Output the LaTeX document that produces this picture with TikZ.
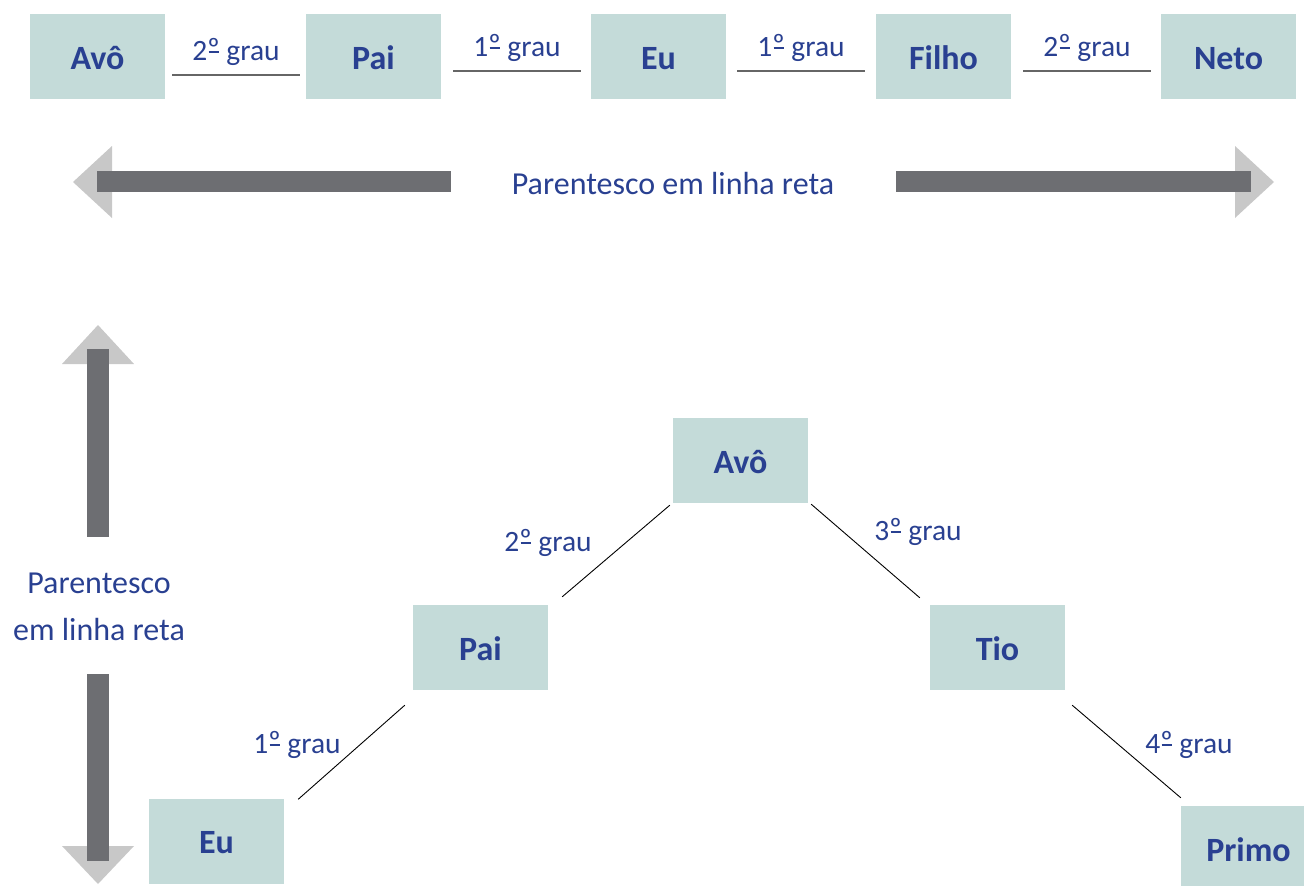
\documentclass[tikz,border=0pt]{standalone}
\usepackage{fontspec}
\setmainfont{Carlito}
\usetikzlibrary{calc}
\definecolor{boxfill}{RGB}{196,219,217}
\definecolor{txtblue}{RGB}{41,64,145}
\definecolor{shaftgray}{RGB}{109,110,114}
\definecolor{headgray}{RGB}{200,200,200}
\newcommand\myordm{\leavevmode\setbox0\hbox{º}\rlap{\hbox to \wd0{\hss\rule[0.24em]{0.34em}{0.06em}\hss}}\raisebox{0.05em}{º}}
\begin{document}
\begin{tikzpicture}[x=1pt,y=-1pt,
 kin/.style={fill=boxfill, minimum width=135pt, minimum height=85pt, inner sep=0pt, text height=25pt, text depth=0pt, text=txtblue, font=\fontsize{34}{40}\selectfont\bfseries},
 grau/.style={text=txtblue, font=\fontsize{29.5}{34}\selectfont, inner sep=0pt},
 bigtxt/.style={text=txtblue, font=\fontsize{32}{47}\selectfont, inner sep=0pt, align=center},
 link/.style={draw=black!60, line width=1.2pt},
 diag/.style={draw=black, line width=0.9pt},
 shaftbar/.style={fill=shaftgray},
 headtri/.style={fill=headgray},
]
\useasboundingbox (0,0) rectangle (1304,886);
\clip (0,0) rectangle (1304,886);

% top row
\node[kin] (t1) at (97.5,56.5) {Avô};
\node[kin] (t2) at (373.5,56.5) {Pai};
\node[kin] (t3) at (658.5,56.5) {Eu};
\node[kin] (t4) at (943.5,56.5) {Filho};
\node[kin] (t5) at (1228.5,56.5) {Neto};

\draw[link] ($(t1.east)+(7,18.5)$) -- node[grau, anchor=base, yshift=15pt] (g1) {2\myordm{} grau} ($(t2.west)+(-6,18.5)$);
\draw[link] ($(t2.east)+(12,14.5)$) -- node[grau, anchor=base, yshift=15pt] (g2) {1\myordm{} grau} ($(t3.west)+(-10,14.5)$);
\draw[link] ($(t3.east)+(11,14.5)$) -- node[grau, anchor=base, yshift=15pt] (g3) {1\myordm{} grau} ($(t4.west)+(-11,14.5)$);
\draw[link] ($(t4.east)+(12,14.5)$) -- node[grau, anchor=base, yshift=15pt] (g4) {2\myordm{} grau} ($(t5.west)+(-10,14.5)$);

% horizontal arrows
\fill[headtri] (73,182) -- (112,146) -- (112,218) -- cycle;
\fill[shaftbar] (97,171) rectangle (451,192);
\fill[headtri] (1274,182) -- (1235,146) -- (1235,218) -- cycle;
\fill[shaftbar] (896,171) rectangle (1251,192);
\node[bigtxt] (hl) at (673,184) {Parentesco em linha reta};

% vertical arrows
\fill[headtri] (98,325) -- (62,364) -- (134,364) -- cycle;
\fill[shaftbar] (87,349) rectangle (109,537);
\fill[headtri] (98,884) -- (62,846) -- (134,846) -- cycle;
\fill[shaftbar] (87,674) rectangle (109,861);
\node[bigtxt] (vl) at (99,607) {Parentesco\\em linha reta};

% tree
\node[kin] (bavo) at (740.5,460.5) {Avô};
\node[kin] (bpai) at (480.5,647.5) {Pai};
\node[kin] (btio) at (997.5,647.5) {Tio};
\node[kin] (beu) at (216.5,841) {Eu};
\node[kin] (bprimo) at (1248.5,848.5) {Primo};

\draw[diag] ($(bavo.south west)+(-3,2)$) -- ($(bpai.north east)+(14,-8)$);
\draw[diag] ($(bavo.south east)+(3,1)$) -- ($(btio.north west)+(-10,-7)$);
\draw[diag] ($(bpai.south west)+(-8,15)$) -- ($(beu.north east)+(14,1)$);
\draw[diag] ($(btio.south east)+(7,15)$) -- ($(bprimo.north west)+(0,-8)$);

\node[grau] (l2) at (548,543) {2\myordm{} grau};
\node[grau] (l3) at (918,532) {3\myordm{} grau};
\node[grau] (l1) at (297,745) {1\myordm{} grau};
\node[grau] (l4) at (1189,745) {4\myordm{} grau};
\end{tikzpicture}
\end{document}
